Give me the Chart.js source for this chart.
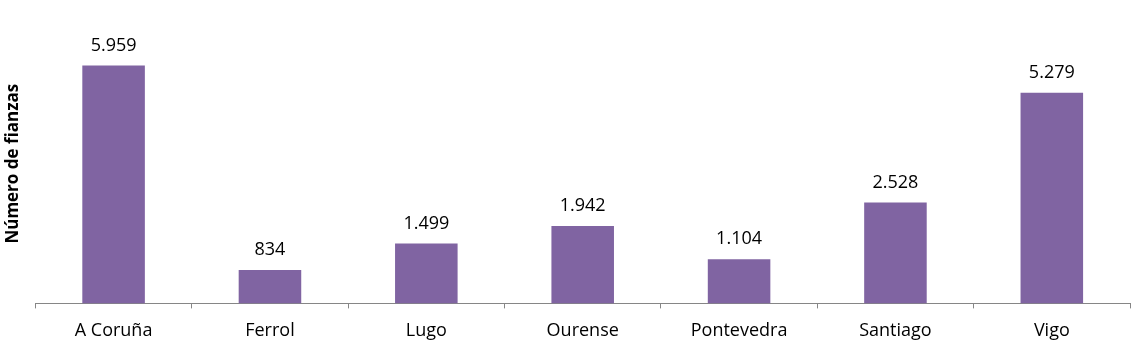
<!DOCTYPE html>
<html>
<head>
<meta charset="utf-8">
<script src="https://cdn.jsdelivr.net/npm/chart.js@4/dist/chart.umd.min.js"></script>
<style>
  body { margin: 0; background: #fff; }
  #wrap { width: 1133px; height: 356px; position: relative; }
</style>
</head>
<body>
<div id="wrap"><canvas id="myChart"></canvas></div>
<script>
const cities = ["A Coruña", "Ferrol", "Lugo", "Ourense", "Pontevedra", "Santiago", "Vigo"];
const fianzas = [5959, 834, 1499, 1942, 1104, 2528, 5279];
const yTitle = "Número de fianzas";

// miles con punto, como en el original
function fmt(n) {
  return String(n).replace(/\B(?=(\d{3})+(?!\d))/g, ".");
}

const valueLabels = {
  id: "valueLabels",
  afterDatasetsDraw(chart) {
    const ctx = chart.ctx;
    const meta = chart.getDatasetMeta(0);
    ctx.save();
    ctx.font = "18px 'Open Sans'";
    ctx.fillStyle = "#000";
    ctx.textAlign = "center";
    ctx.textBaseline = "middle";
    meta.data.forEach((bar, i) => {
      ctx.fillText(fmt(fianzas[i]), bar.x, bar.y - 20);
    });
    ctx.restore();
  },
};

const ctx = document.getElementById("myChart").getContext("2d");
const myChart = new Chart(ctx, {
  type: "bar",
  data: {
    labels: cities,
    datasets: [
      {
        data: fianzas,
        backgroundColor: "#8064A2",
        categoryPercentage: 1,
        barPercentage: 0.4,
      },
    ],
  },
  options: {
    responsive: true,
    maintainAspectRatio: false,
    animation: false,
    layout: { padding: { top: 24, right: 3, bottom: 2, left: 3 } },
    plugins: {
      legend: { display: false },
      tooltip: { enabled: false },
    },
    scales: {
      x: {
        grid: {
          offset: true,
          drawOnChartArea: false,
          tickLength: 5,
          color: "#868686",
        },
        border: { color: "#868686" },
        ticks: {
          color: "#000",
          font: { family: "'Open Sans'", size: 18 },
          padding: 12,
        },
      },
      y: {
        min: 0,
        max: 7000,
        grid: { display: false },
        border: { display: false },
        ticks: { display: false },
        title: {
          display: true,
          text: yTitle,
          color: "#000",
          font: { family: "'Open Sans'", size: 17, weight: "bold" },
          padding: { top: 0, bottom: 4 },
        },
      },
    },
  },
  plugins: [valueLabels],
});
</script>
</body>
</html>
